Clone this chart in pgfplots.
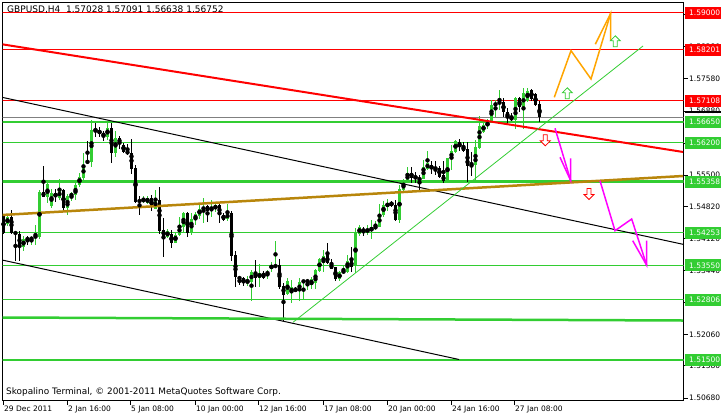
\documentclass[border=0pt]{standalone}
\usepackage{pgfplots}
\usepackage{pgfplotstable}
\pgfplotsset{compat=1.18}
\usepackage{fontspec}
\setmainfont{DejaVu Sans}

\definecolor{lime}{RGB}{50,205,50}
\definecolor{gold}{RGB}{184,134,11}
\definecolor{bid}{RGB}{128,128,128}
\definecolor{orng}{RGB}{255,165,0}
\definecolor{mag}{RGB}{255,0,255}
\definecolor{pure red}{RGB}{255,0,0}
\newcommand{\lab}{\fontsize{7.5bp}{9bp}\selectfont}

% GBPUSD H4 candles: bar index, open, high, low, close
\pgfplotstableread{
i o h l c
0 1.54615 1.54658 1.54226 1.54254
1 1.54442 1.54637 1.54399 1.54587
2 1.54587 1.54745 1.54226 1.54254
3 1.54270 1.54291 1.53650 1.54226
4 1.54226 1.54285 1.53650 1.53952
5 1.53952 1.54183 1.53866 1.54125
6 1.54125 1.54183 1.53995 1.54112
7 1.54097 1.54183 1.53995 1.54155
8 1.54140 1.54414 1.53995 1.54198
9 1.54168 1.55177 1.54125 1.55134
10 1.55134 1.55695 1.55019 1.55032
11 1.55019 1.55378 1.54903 1.55306
12 1.54831 1.55205 1.54788 1.55106
13 1.55106 1.55205 1.54918 1.55032
14 1.55004 1.55408 1.54961 1.55177
15 1.55177 1.55205 1.54745 1.54788
16 1.54788 1.55090 1.54643 1.55047
17 1.55032 1.55134 1.54933 1.55106
18 1.55075 1.55322 1.54961 1.55278
19 1.55278 1.55538 1.55235 1.55464
20 1.55436 1.55983 1.55393 1.55723
21 1.55797 1.56229 1.55738 1.55775
22 1.55788 1.56689 1.55680 1.56473
23 1.56466 1.56618 1.56328 1.56451
24 1.56473 1.56531 1.56328 1.56386
25 1.56414 1.56458 1.56242 1.56328
26 1.56328 1.56618 1.56257 1.56516
27 1.56516 1.56618 1.55767 1.55983
28 1.55983 1.56445 1.55883 1.56300
29 1.56300 1.56343 1.56056 1.56185
30 1.56155 1.56185 1.55983 1.55998
31 1.56026 1.56170 1.55939 1.55954
32 1.55983 1.56285 1.55522 1.55637
33 1.55652 1.55710 1.54903 1.54918
34 1.54946 1.55047 1.54643 1.54933
35 1.54933 1.55047 1.54890 1.54976
36 1.54890 1.55047 1.54874 1.55004
37 1.55004 1.55062 1.54730 1.54816
38 1.54773 1.55177 1.54760 1.54976
39 1.54961 1.55235 1.54226 1.54298
40 1.54313 1.54572 1.53736 1.54183
41 1.54168 1.54328 1.54140 1.54285
42 1.54226 1.54313 1.53924 1.54038
43 1.54038 1.54248 1.54026 1.54211
44 1.54198 1.54587 1.54183 1.54414
45 1.54384 1.54702 1.54270 1.54674
46 1.54674 1.54702 1.54168 1.54254
47 1.54242 1.54674 1.54211 1.54544
48 1.54529 1.54702 1.54427 1.54658
49 1.54615 1.54859 1.54557 1.54773
50 1.54745 1.55004 1.54458 1.54816
51 1.54831 1.54859 1.54486 1.54730
52 1.54730 1.54961 1.54600 1.54788
53 1.54773 1.54903 1.54702 1.54846
54 1.54859 1.54890 1.54458 1.54630
55 1.54643 1.54674 1.54501 1.54529
56 1.54544 1.54874 1.54514 1.54687
57 1.54687 1.54717 1.53637 1.53751
58 1.53766 1.53853 1.53075 1.53291
59 1.53291 1.53298 1.53131 1.53261
60 1.53276 1.53304 1.53103 1.53175
61 1.53175 1.53319 1.53103 1.53218
62 1.53190 1.53449 1.52773 1.53406
63 1.53406 1.53665 1.53088 1.53276
64 1.53276 1.53578 1.53088 1.53378
65 1.53378 1.53434 1.53261 1.53276
66 1.53362 1.53449 1.53261 1.53406
67 1.53477 1.53622 1.53406 1.53563
68 1.53507 1.54082 1.53492 1.53563
69 1.53550 1.53680 1.53045 1.53088
70 1.53103 1.53162 1.52354 1.52915
71 1.52930 1.53276 1.52902 1.53205
72 1.52946 1.53233 1.52743 1.53088
73 1.53045 1.53082 1.52974 1.52989
74 1.52989 1.53276 1.52786 1.53190
75 1.53196 1.53233 1.52816 1.53211
76 1.53205 1.53261 1.53017 1.53211
77 1.53131 1.53304 1.53032 1.53248
78 1.53162 1.53477 1.53032 1.53449
79 1.53434 1.53708 1.53406 1.53693
80 1.53607 1.53881 1.53406 1.53751
81 1.53766 1.54038 1.53578 1.53594
82 1.53578 1.53680 1.53477 1.53477
83 1.53507 1.53520 1.53205 1.53261
84 1.53248 1.53434 1.53205 1.53406
85 1.53390 1.53535 1.53362 1.53434
86 1.53406 1.53766 1.53378 1.53650
87 1.53650 1.53952 1.53406 1.53520
88 1.53535 1.54356 1.53384 1.54242
89 1.54226 1.54414 1.54183 1.54384
90 1.54341 1.54384 1.54183 1.54270
91 1.54270 1.54414 1.54198 1.54328
92 1.54298 1.54529 1.54125 1.54371
93 1.54328 1.54501 1.54313 1.54414
94 1.54384 1.54874 1.54371 1.54658
95 1.54643 1.54933 1.54600 1.54859
96 1.54816 1.54976 1.54730 1.54903
97 1.54918 1.54946 1.54816 1.54831
98 1.54846 1.54961 1.54514 1.54529
99 1.54529 1.55278 1.54471 1.55205
100 1.55177 1.55421 1.55162 1.55335
101 1.55350 1.55667 1.55335 1.55550
102 1.55550 1.55667 1.55335 1.55436
103 1.55479 1.55566 1.55335 1.55421
104 1.55421 1.55507 1.55177 1.55408
105 1.55421 1.55825 1.55408 1.55667
106 1.55637 1.56026 1.55609 1.55754
107 1.55710 1.55810 1.55522 1.55624
108 1.55637 1.55797 1.55494 1.55594
109 1.55652 1.55695 1.55436 1.55464
110 1.55494 1.55810 1.55322 1.55371
111 1.55378 1.55868 1.55350 1.55868
112 1.55840 1.56142 1.55609 1.56026
113 1.55998 1.56257 1.55983 1.56242
114 1.56214 1.56272 1.56013 1.56112
115 1.56127 1.56214 1.55998 1.56013
116 1.56056 1.56214 1.55350 1.55695
117 1.55710 1.55998 1.55479 1.55702
118 1.55710 1.56257 1.55393 1.56112
119 1.56084 1.56775 1.56069 1.56559
120 1.56430 1.56618 1.56414 1.56587
121 1.56559 1.56704 1.56501 1.56631
122 1.56631 1.57121 1.56618 1.57019
123 1.56991 1.57121 1.56760 1.57063
124 1.57034 1.57337 1.56905 1.57093
125 1.57078 1.57164 1.56760 1.56862
126 1.56862 1.56948 1.56574 1.56732
127 1.56760 1.56834 1.56661 1.56689
128 1.56689 1.57192 1.56488 1.57164
129 1.57164 1.57192 1.56862 1.56963
130 1.56963 1.57380 1.56501 1.57266
131 1.57093 1.57380 1.57078 1.57322
132 1.57337 1.57369 1.57106 1.57149
133 1.57250 1.57272 1.56991 1.57006
134 1.57028 1.57091 1.56638 1.56752
}\candles

\tikzset{
  plab/.style={anchor=west, xshift=1.5bp, inner xsep=4bp, inner ysep=0pt,
    minimum height=12bp, text=white, font=\lab},
  uparr/.style={draw=lime, fill=white, line width=0.8bp},
  dnarr/.style={draw=pure red, fill=white, line width=0.8bp},
}

\begin{document}
\begin{tikzpicture}
\begin{axis}[
  scale only axis, width=681bp, height=398bp,
  xmin=-0.25, xmax=170, ymin=1.50626, ymax=1.59222,
  axis line style={line width=1bp},
  tick align=outside, major tick length=4bp,
  every tick/.style={black, line width=1bp},
  xtick pos=left, ytick pos=right, yticklabel pos=right,
  xtick={-0.125,15.875,31.625,47.875,63.625,79.875,95.875,111.875,127.625},
  xticklabels={29 Dec 2011,2 Jan 16:00,5 Jan 08:00,10 Jan 00:00,12 Jan 16:00,17 Jan 08:00,20 Jan 00:00,24 Jan 16:00,27 Jan 08:00},
  ytick={1.5068,1.5138,1.5206,1.5274,1.5344,1.5412,1.5482,1.5550,1.5618,1.5688,1.5758,1.5828,1.5896},
  yticklabels={1.50680,1.51380,1.52060,1.52740,1.53440,1.54120,1.54820,1.55500,1.56180,1.56880,1.57580,1.58280,1.58960},
  xticklabel style={font=\lab, anchor=north west, inner sep=0pt, xshift=1bp, yshift=-1bp},
  yticklabel style={font=\lab, anchor=west, inner sep=0pt, xshift=1.5bp},
]
% horizontal levels
\addplot[pure red, line width=1bp] coordinates {(-1,1.59000) (171,1.59000)};
\addplot[pure red, line width=1bp] coordinates {(-1,1.58201) (171,1.58201)};
\addplot[pure red, line width=1bp] coordinates {(-1,1.57108) (171,1.57108)};
\addplot[bid, line width=1bp] coordinates {(-1,1.56752) (171,1.56752)};
\addplot[lime, line width=2.5bp] coordinates {(-1,1.56650) (171,1.56650)};
\addplot[lime, line width=1bp] coordinates {(-1,1.56200) (171,1.56200)};
\addplot[lime, line width=2.5bp] coordinates {(-1,1.55358) (171,1.55358)};
\addplot[lime, line width=1bp] coordinates {(-1,1.54253) (171,1.54253)};
\addplot[lime, line width=1bp] coordinates {(-1,1.53550) (171,1.53550)};
\addplot[lime, line width=1bp] coordinates {(-1,1.52806) (171,1.52806)};
\addplot[lime, line width=2.5bp] coordinates {(-1,1.51500) (171,1.51500)};

% candles: wicks and bodies
\addplot[only marks, mark=none, restrict expr to domain={\thisrow{c}-\thisrow{o}}{0:1},
  error bars/.cd, y dir=both, y explicit, error mark=none,
  error bar style={lime, line width=1bp}]
  table[x=i, y expr={(\thisrow{h}+\thisrow{l})/2}, y error expr={(\thisrow{h}-\thisrow{l})/2}] {\candles};
\addplot[only marks, mark=none, restrict expr to domain={\thisrow{c}-\thisrow{o}}{-1:-0.000001},
  error bars/.cd, y dir=both, y explicit, error mark=none,
  error bar style={black, line width=1bp}]
  table[x=i, y expr={(\thisrow{h}+\thisrow{l})/2}, y error expr={(\thisrow{h}-\thisrow{l})/2}] {\candles};
\addplot[only marks, mark=none, restrict expr to domain={\thisrow{c}-\thisrow{o}}{0:1},
  error bars/.cd, y dir=both, y explicit, error mark=none,
  error bar style={lime, line width=3bp}]
  table[x=i, y expr={(\thisrow{o}+\thisrow{c})/2},
        y error expr={max(abs(\thisrow{c}-\thisrow{o})/2,0.00011)}] {\candles};
\addplot[only marks, mark=none, restrict expr to domain={\thisrow{c}-\thisrow{o}}{-1:-0.000001},
  error bars/.cd, y dir=both, y explicit, error mark=none,
  error bar style={black, line width=3bp}]
  table[x=i, y expr={(\thisrow{o}+\thisrow{c})/2},
        y error expr={max(abs(\thisrow{c}-\thisrow{o})/2,0.00011)}] {\candles};

% trend lines
\addplot[pure red, line width=2bp] coordinates {(-0.375,1.58324) (169.875,1.55998)};
\addplot[black, line width=1bp] coordinates {(-0.375,1.57179) (169.875,1.54004)};
\addplot[black, line width=1bp] coordinates {(-0.375,1.53665) (113.875,1.51516)};
\addplot[gold, line width=2.5bp] coordinates {(-0.375,1.54637) (169.875,1.55479)};
\addplot[lime, line width=2.5bp] coordinates {(-0.375,1.52423) (169.875,1.52358)};
\addplot[lime, line width=0.8bp] coordinates {(72.375,1.52319) (159.875,1.58287)};

% projected paths
\addplot[orng, line width=1.5bp] coordinates {(137.7,1.57179) (141.875,1.58186) (146.875,1.57574) (151.8,1.58994)};
\addplot[orng, line width=1.5bp] coordinates {(147.95,1.58324) (151.8,1.58994) (151.8,1.58402)};
\addplot[mag, line width=1.5bp] coordinates {(137.875,1.56510) (141.8,1.55378)};
\addplot[mag, line width=1.5bp] coordinates {(139.125,1.55883) (141.8,1.55378) (141.8,1.55862)};
\addplot[mag, line width=1.5bp] coordinates {(149.125,1.55378) (152.875,1.54298) (157.05,1.54550) (160.8,1.53550)};
\addplot[mag, line width=1.5bp] coordinates {(157.3,1.54082) (160.8,1.53550) (160.8,1.54082)};

% anchor points for annotations
\coordinate (u1) at (axis cs:140.95,1.57266);
\coordinate (u2) at (axis cs:152.95,1.58389);
\coordinate (d1) at (axis cs:135.45,1.56250);
\coordinate (d2) at (axis cs:146.375,1.55090);
\coordinate (r1) at (axis cs:170,1.59000);
\coordinate (r2) at (axis cs:170,1.58201);
\coordinate (r3) at (axis cs:170,1.57108);
\coordinate (bb) at (axis cs:170,1.56752);
\coordinate (g1) at (axis cs:170,1.56650);
\coordinate (g2) at (axis cs:170,1.56200);
\coordinate (g3) at (axis cs:170,1.55358);
\coordinate (g4) at (axis cs:170,1.54253);
\coordinate (g5) at (axis cs:170,1.53550);
\coordinate (g6) at (axis cs:170,1.52806);
\coordinate (g7) at (axis cs:170,1.51500);
\end{axis}

% hollow arrow signs
\foreach \p in {u1,u2}
  \draw[uparr, shift={(\p)}] (0,5.5bp) -- (5bp,0.5bp) -- (2bp,0.5bp) -- (2bp,-5.5bp)
    -- (-2bp,-5.5bp) -- (-2bp,0.5bp) -- (-5bp,0.5bp) -- cycle;
\foreach \p in {d1,d2}
  \draw[dnarr, shift={(\p)}] (0,-5.5bp) -- (5bp,-0.5bp) -- (2bp,-0.5bp) -- (2bp,5.5bp)
    -- (-2bp,5.5bp) -- (-2bp,-0.5bp) -- (-5bp,-0.5bp) -- cycle;

% price labels on the right scale
\fill[black] ([xshift=1.5bp,yshift=4.5bp]bb) rectangle ++(40bp,2bp);
\foreach \p/\t in {r1/1.59000,r2/1.58201,r3/1.57108}
  \node[plab, fill=pure red] at (\p) {\t};
\foreach \p/\t in {g1/1.56650,g2/1.56200,g3/1.55358,g4/1.54253,g5/1.53550,g6/1.52806,g7/1.51500}
  \node[plab, fill=lime] at (\p) {\t};

% chart captions
\node[anchor=west, font=\fontsize{9bp}{11bp}\selectfont, inner sep=0pt] at (4.5bp,390.7bp) {GBPUSD,H4\ \ 1.57028 1.57091 1.56638 1.56752};
\node[anchor=west, font=\fontsize{8.9bp}{11bp}\selectfont, inner sep=0pt] at (3.5bp,8.5bp) {Skopalino Terminal, © 2001-2011 MetaQuotes Software Corp.};

\pgfresetboundingbox
\path (-2.5bp,-17.3bp) rectangle (718.5bp,400.7bp);
\end{tikzpicture}
\end{document}
